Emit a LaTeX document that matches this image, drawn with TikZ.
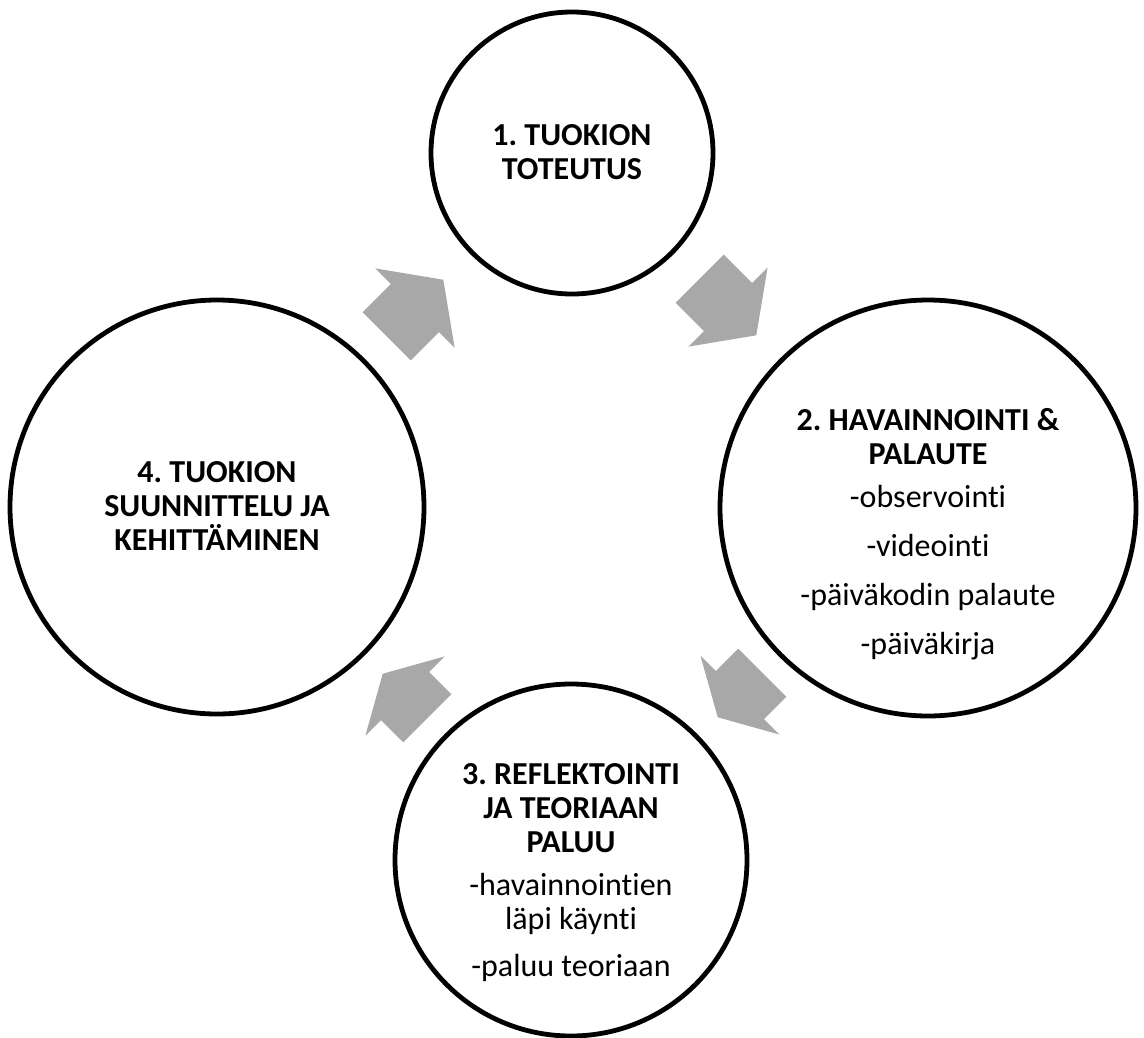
\documentclass[tikz,border=0pt]{standalone}
\usepackage{fontspec}
\setmainfont{Carlito}[RawFeature={-liga;-clig;-dlig}]
\frenchspacing
\definecolor{arrowgray}{HTML}{A8A8A8}
\tikzset{
  stage/.style={circle, draw=black, line width=4.8pt, fill=white, inner sep=0pt},
  stagetext/.style={anchor=north, inner sep=0pt, align=center, font=\fontsize{32}{34}\selectfont},
  blockarrow/.style={fill=arrowgray, draw=none}
}
% #1 centre, #2 angle, #3 half length
\newcommand\cyclearrow[3]{%
  \fill[blockarrow, shift={(#1)}, rotate=#2]
    (-#3,-34) -- (0,-34) -- (0,-56) -- (#3,0) -- (0,56) -- (0,34) -- (-#3,34) -- cycle;}
\begin{document}
\begin{tikzpicture}[x=1pt,y=-1pt]
\useasboundingbox (0,0) rectangle (1144,1037);
% stages
\node[stage, minimum size=282pt] (c1) at (572,153) {};
\node[stage, minimum size=416pt] (c2) at (928,508) {};
\node[stage, minimum size=352pt] (c3) at (571,860) {};
\node[stage, minimum size=414pt] (c4) at (217,507) {};
% texts
\node[stagetext] (t1) at (572,124) {\textbf{1. TUOKION}\\\textbf{TOTEUTUS}};
\node[stagetext] (t2) at (928,408) {\textbf{2. HAVAINNOINTI \&}\\\textbf{PALAUTE}\\[9pt]
  -observointi\\[15pt]-videointi\\[15pt]-päiväkodin palaute\\[15pt]-päiväkirja};
\node[stagetext] (t3) at (571,763) {\textbf{3. REFLEKTOINTI}\\\textbf{JA TEORIAAN}\\\textbf{PALUU}\\[9pt]
  -havainnointien\\läpi käynti\\[13pt]-paluu teoriaan};
\node[stagetext] (t4) at (217,461) {\textbf{4. TUOKION}\\\textbf{SUUNNITTELU JA}\\\textbf{KEHITTÄMINEN}};
% arrows between stages
\cyclearrow{415,308}{45}{40}
\cyclearrow{728,307}{-45}{40}
\cyclearrow{740,695}{-135}{31.5}
\cyclearrow{405,696}{135}{31.5}
\end{tikzpicture}
\end{document}
